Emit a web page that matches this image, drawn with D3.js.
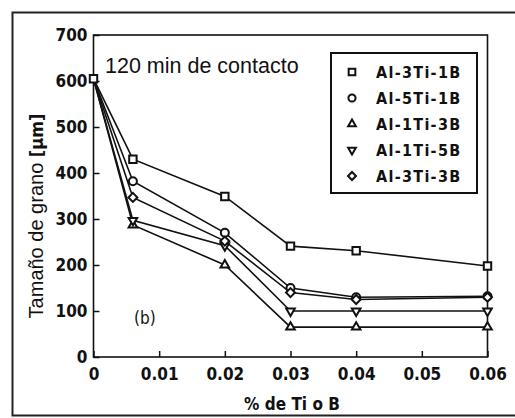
<!DOCTYPE html>
<html>
<head>
<meta charset="utf-8">
<script src="https://cdn.jsdelivr.net/npm/d3@7"></script>
<style>
  body { margin: 0; background: #fff; }
  .tk text { font-family: "DejaVu Sans Condensed", "Liberation Sans Narrow", sans-serif; font-weight: bold; font-size: 17px; fill: #111; }
</style>
</head>
<body>
<svg width="515" height="418"></svg>
<script>
var xVals = [0, 0.006, 0.02, 0.03, 0.04, 0.06];
var names = ["Al-3Ti-1B", "Al-5Ti-1B", "Al-1Ti-3B", "Al-1Ti-5B", "Al-3Ti-3B"];
var s31 = [605, 430, 349, 241, 231, 198];
var s51 = [605, 382, 270, 150, 130, 132];
var s13 = [605, 287, 200, 65, 65, 65];
var s15 = [605, 297, 242, 100, 100, 100];
var s33 = [605, 347, 252, 140, 125, 130];
var xTicks = [0, 0.01, 0.02, 0.03, 0.04, 0.05, 0.06];
var yTicks = [0, 100, 200, 300, 400, 500, 600, 700];

var series = [s31, s51, s13, s15, s33];
var shapes = [d3.symbolSquare, d3.symbolCircle, d3.symbolTriangle, d3.symbolTriangle, d3.symbolSquare];
var rot = [0, 0, 0, 180, 45];
var sizes = [55, 50, 32, 32, 40];

var svg = d3.select("svg");

// outer frame
svg.append("rect")
  .attr("x", 12.5).attr("y", 12.5)
  .attr("width", 520).attr("height", 403)
  .attr("fill", "none").attr("stroke", "#222").attr("stroke-width", 2);

var x = d3.scaleLinear().domain([0, 0.06]).range([93.5, 487.5]);
var y = d3.scaleLinear().domain([0, 700]).range([357, 35]);

// plot frame
svg.append("rect")
  .attr("x", x(0)).attr("y", y(700))
  .attr("width", x(0.06) - x(0)).attr("height", y(0) - y(700))
  .attr("fill", "none").attr("stroke", "#111").attr("stroke-width", 1.6);

var xAxis = d3.axisBottom(x).tickValues(xTicks)
  .tickFormat(function(d) { return d === 0 ? "0" : d3.format(".2f")(d); })
  .tickSizeInner(-6).tickSizeOuter(0).tickPadding(11);
var yAxis = d3.axisLeft(y).tickValues(yTicks)
  .tickSizeInner(-6).tickSizeOuter(0).tickPadding(6);

svg.append("g").attr("class", "tk")
  .attr("transform", "translate(0," + y(0) + ")")
  .call(xAxis)
  .call(function(g) { g.select(".domain").remove(); })
  .selectAll("line").attr("stroke", "#111").attr("stroke-width", 1.5);

svg.append("g").attr("class", "tk")
  .attr("transform", "translate(" + x(0) + ",0)")
  .call(yAxis)
  .call(function(g) { g.select(".domain").remove(); })
  .selectAll("line").attr("stroke", "#111").attr("stroke-width", 1.5);

// lines
var line = d3.line()
  .x(function(d, i) { return x(xVals[i]); })
  .y(function(d) { return y(d); });

series.forEach(function(s) {
  svg.append("path")
    .attr("d", line(s))
    .attr("fill", "none")
    .attr("stroke", "#111")
    .attr("stroke-width", 1.6);
});

// markers (the common start point only shows the square)
series.forEach(function(s, k) {
  var pts = s.map(function(v, i) { return { i: i, v: v }; })
    .filter(function(p) { return k === 0 || p.i > 0; });
  svg.selectAll("path.m" + k)
    .data(pts)
    .enter()
    .append("path")
    .attr("class", "m" + k)
    .attr("d", d3.symbol().type(shapes[k]).size(sizes[k]))
    .attr("transform", function(p) {
      return "translate(" + x(xVals[p.i]) + "," + y(p.v) + ") rotate(" + rot[k] + ")";
    })
    .attr("fill", "#fff")
    .attr("stroke", "#111")
    .attr("stroke-width", 2);
});

// annotation
svg.append("text")
  .attr("x", 105).attr("y", 73)
  .attr("font-family", "Liberation Sans, Arial, sans-serif")
  .attr("font-size", 21.5)
  .attr("fill", "#111")
  .text("120 min de contacto");

svg.append("text")
  .attr("x", 134).attr("y", 324)
  .attr("font-family", "DejaVu Sans Condensed, sans-serif")
  .attr("font-size", 17)
  .attr("fill", "#111")
  .text("(b)");

// legend
var lg = svg.append("g");
lg.append("rect")
  .attr("x", 331).attr("y", 53)
  .attr("width", 146).attr("height", 140)
  .attr("fill", "#fff").attr("stroke", "#111").attr("stroke-width", 2);

names.forEach(function(n, k) {
  var ly = 72 + k * 26;
  lg.append("path")
    .attr("d", d3.symbol().type(shapes[k]).size(sizes[k] * 0.8))
    .attr("transform", "translate(352," + ly + ") rotate(" + rot[k] + ")")
    .attr("fill", "#fff").attr("stroke", "#111").attr("stroke-width", 2);
  lg.append("text")
    .attr("x", 376).attr("y", ly + 6)
    .attr("font-family", "DejaVu Sans Condensed, sans-serif")
    .attr("font-weight", "bold")
    .attr("font-size", 16)
    .attr("letter-spacing", 1.3)
    .attr("fill", "#111")
    .text(n);
});

// axis titles
svg.append("text")
  .attr("x", 292).attr("y", 410)
  .attr("text-anchor", "middle")
  .attr("font-family", "DejaVu Sans Condensed, sans-serif")
  .attr("font-weight", "bold")
  .attr("font-size", 17)
  .attr("fill", "#111")
  .text("% de Ti o B");

var yt = svg.append("text")
  .attr("transform", "translate(43,216) rotate(-90)")
  .attr("text-anchor", "middle")
  .attr("font-size", 20)
  .attr("fill", "#111");
yt.append("tspan")
  .attr("font-family", "Liberation Sans, Arial, sans-serif")
  .text("Tamaño de grano ");
yt.append("tspan")
  .attr("font-family", "DejaVu Sans Condensed, sans-serif")
  .attr("font-weight", "bold")
  .attr("font-size", 18)
  .text("[µm]");
</script>
</body>
</html>
